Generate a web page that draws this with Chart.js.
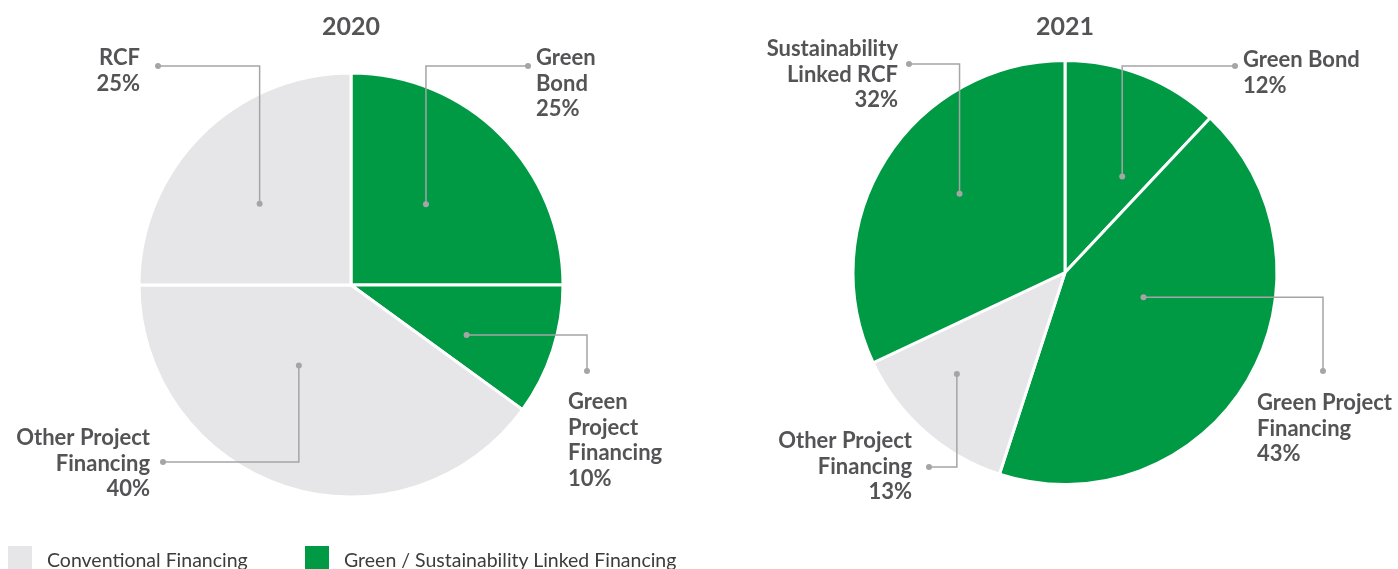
<!DOCTYPE html>
<html>
<head>
<meta charset="utf-8">
<script src="https://cdn.jsdelivr.net/npm/chart.js@4.4.1/dist/chart.umd.min.js"></script>
<style>
  html, body { margin: 0; padding: 0; background: #fff; }
  body { width: 1398px; height: 569px; position: relative; overflow: hidden; font-family: Lato, sans-serif; }
  .pie { position: absolute; top: 0; }
  #pie2020 { left: 0; }
  #pie2021 { left: 700px; }
  #legend { position: absolute; left: 8px; top: 546px; display: flex; }
  #legend .item { display: flex; align-items: flex-start; }
  #legend .box { width: 24px; height: 24px; margin-right: 15px; }
  #legend .txt { font-size: 19.5px; color: #3c3c3c; line-height: 24px; position: relative; top: 2px; }
</style>
</head>
<body>
<canvas id="pie2020" class="pie" width="700" height="569"></canvas>
<canvas id="pie2021" class="pie" width="698" height="569"></canvas>
<div id="legend"></div>
<script>
const GREEN = "#009a44";
const GREY = "#e6e6e8";
const TEXT = "#545456";
const LEADER = "#a5a5a8";

// categories (multi-line as they are written on the chart) and shares in %
const labels2020 = [["Green", "Bond"], ["Green", "Project", "Financing"], ["Other Project", "Financing"], ["RCF"]];
const values2020 = [25, 10, 40, 25];
const kinds2020 = ["green", "green", "conventional", "conventional"];

const labels2021 = [["Green Bond"], ["Green Project", "Financing"], ["Other Project", "Financing"], ["Sustainability", "Linked RCF"]];
const values2021 = [12, 43, 13, 32];
const kinds2021 = ["green", "green", "conventional", "green"];

const legendLabels = ["Conventional Financing", "Green / Sustainability Linked Financing"];
const legendKinds = ["conventional", "green"];

const KIND_COLOR = { green: GREEN, conventional: GREY };

// leader lines: "at" = position inside the slice (0..1 of its sweep), "r" = fraction of the radius,
// route "v" goes vertical first, "h" horizontal first; end/text are offsets from the pie centre
const callouts2020 = [
  { at: 0.476, r: 0.52, route: "v", end: [177, -219], text: [185, -227], align: "left" },
  { at: 0.65, r: 0.594, route: "h", end: [236, 86], text: [217, 117], align: "left" },
  { at: 0.604, r: 0.452, route: "v", end: [-188, 177], text: [-201, 153], align: "right" },
  { at: 0.463, r: 0.577, route: "v", end: [-193, -219], text: [-211, -227], align: "right" }
];
const callouts2021 = [
  { at: 0.713, r: 0.527, route: "v", end: [170, -206.5], text: [178, -212.5], align: "left" },
  { at: 0.415, r: 0.388, route: "h", end: [258, 98.5], text: [192, 130.5], align: "left" },
  { at: 0.615, r: 0.70, route: "v", end: [-136, 194.5], text: [-153, 168.5], align: "right" },
  { at: 0.538, r: 0.621, route: "v", end: [-156, -208.5], text: [-167, -223.5], align: "right" }
];

const calloutPlugin = {
  id: "callouts",
  afterDatasetsDraw(chart, args, opts) {
    const ctx = chart.ctx;
    const meta = chart.getDatasetMeta(0);
    const values = chart.data.datasets[0].data;
    meta.data.forEach((arc, i) => {
      const c = opts.items[i];
      const p = arc.getProps(["x", "y", "startAngle", "endAngle", "outerRadius"], true);
      const a = p.startAngle + (p.endAngle - p.startAngle) * c.at;
      const px = p.x + Math.cos(a) * p.outerRadius * c.r;
      const py = p.y + Math.sin(a) * p.outerRadius * c.r;
      const ex = p.x + c.end[0];
      const ey = p.y + c.end[1];
      const corner = c.route === "v" ? [px, ey] : [ex, py];

      ctx.save();
      ctx.strokeStyle = LEADER;
      ctx.lineWidth = 1.5;
      ctx.beginPath();
      ctx.moveTo(px, py);
      ctx.lineTo(corner[0], corner[1]);
      ctx.lineTo(ex, ey);
      ctx.stroke();
      ctx.fillStyle = LEADER;
      [[px, py], [ex, ey]].forEach(([dx, dy]) => {
        ctx.beginPath();
        ctx.arc(dx, dy, 3, 0, Math.PI * 2);
        ctx.fill();
      });

      const lines = chart.data.labels[i].concat([values[i] + "%"]);
      ctx.fillStyle = TEXT;
      ctx.font = "bold 22px Lato, sans-serif";
      ctx.textAlign = c.align;
      ctx.textBaseline = "middle";
      lines.forEach((line, k) => {
        ctx.fillText(line, p.x + c.text[0], p.y + c.text[1] + k * 25.5);
      });
      ctx.restore();
    });
  }
};

function makePie(id, title, labels, values, kinds, callouts, padding) {
  return new Chart(document.getElementById(id), {
    type: "pie",
    data: {
      labels,
      datasets: [{
        data: values,
        backgroundColor: kinds.map(k => KIND_COLOR[k]),
        borderColor: "#ffffff",
        borderWidth: 3,
        radius: 212
      }]
    },
    options: {
      responsive: false,
      animation: false,
      layout: { padding },
      plugins: {
        legend: { display: false },
        tooltip: { enabled: false },
        title: {
          display: true,
          text: title,
          fullSize: false,
          color: TEXT,
          font: { family: "Lato, sans-serif", size: 25, weight: "bold" },
          padding: { top: 12, bottom: 0 }
        },
        callouts: { items: callouts }
      }
    },
    plugins: [calloutPlugin]
  });
}

// title block is 25 * 1.2 + 12 = 42px high; bottom padding puts the pie centres where they belong
makePie("pie2020", "2020", labels2020, values2020, kinds2020, callouts2020,
  { left: 2, right: 0, top: 0, bottom: 41 });
makePie("pie2021", "2021", labels2021, values2021, kinds2021, callouts2021,
  { left: 32, right: 0, top: 0, bottom: 66 });

const legend = document.getElementById("legend");
legendLabels.forEach((text, i) => {
  const item = document.createElement("div");
  item.className = "item";
  item.style.width = i === 0 ? "297px" : "auto";
  const box = document.createElement("div");
  box.className = "box";
  box.style.background = KIND_COLOR[legendKinds[i]];
  const span = document.createElement("span");
  span.className = "txt";
  span.textContent = text;
  item.appendChild(box);
  item.appendChild(span);
  legend.appendChild(item);
});
</script>
</body>
</html>
